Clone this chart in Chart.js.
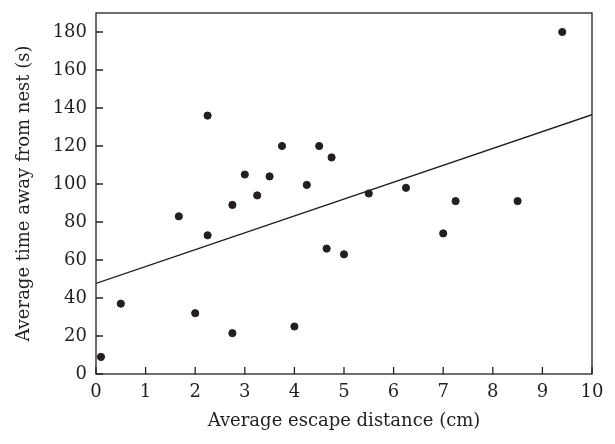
<!DOCTYPE html>
<html>
<head>
<meta charset="utf-8">
<script src="https://cdn.jsdelivr.net/npm/chart.js@4.4.1/dist/chart.umd.min.js"></script>
<style>
  html, body { margin: 0; padding: 0; background: #fff; }
  #wrap { width: 615px; height: 444px; }
</style>
</head>
<body>
<div id="wrap"><canvas id="scatter"></canvas></div>
<script>
// escape distance (cm) vs time away from nest (s)
const escapeDist = [0.1, 0.5, 1.67, 2.0, 2.25, 2.25, 2.75, 2.75, 3.0, 3.25, 3.5, 3.75,
                    4.0, 4.25, 4.5, 4.65, 4.75, 5.0, 5.5, 6.25, 7.0, 7.25, 8.5, 9.4];
const timeAway   = [9, 37, 83, 32, 73, 136, 21.5, 89, 105, 94, 104, 120,
                    25, 99.5, 120, 66, 114, 63, 95, 98, 74, 91, 91, 180];
// fitted line end points
const fitX = [0, 10];
const fitY = [47.7, 136.5];
const xTicks = [0, 1, 2, 3, 4, 5, 6, 7, 8, 9, 10];
const yTicks = [0, 20, 40, 60, 80, 100, 120, 140, 160, 180];

const ink = '#231f20';
const serif = '"DejaVu Serif", "Liberation Serif", serif';

// frame round the plot + ticks pointing inward
const frame = {
  id: 'frame',
  afterDraw(chart) {
    const {ctx, chartArea: a, scales} = chart;
    ctx.save();
    ctx.strokeStyle = ink;
    ctx.lineWidth = 1.3;
    ctx.strokeRect(a.left, a.top, a.right - a.left, a.bottom - a.top);
    ctx.beginPath();
    xTicks.forEach(v => {
      const px = scales.x.getPixelForValue(v);
      ctx.moveTo(px, a.bottom);
      ctx.lineTo(px, a.bottom - 7);
    });
    yTicks.forEach(v => {
      const py = scales.y.getPixelForValue(v);
      ctx.moveTo(a.left, py);
      ctx.lineTo(a.left + 7, py);
    });
    ctx.stroke();
    ctx.restore();
  }
};

new Chart(document.getElementById('scatter'), {
  type: 'scatter',
  data: {
    datasets: [
      {
        data: escapeDist.map((x, i) => ({x: x, y: timeAway[i]})),
        backgroundColor: ink,
        borderColor: ink,
        pointRadius: 3.6,
        pointHoverRadius: 3.6
      },
      {
        type: 'line',
        data: fitX.map((x, i) => ({x: x, y: fitY[i]})),
        borderColor: ink,
        borderWidth: 1.4,
        pointRadius: 0,
        fill: false
      }
    ]
  },
  options: {
    responsive: true,
    maintainAspectRatio: false,
    animation: false,
    layout: { padding: { top: 13, right: 23, left: 0, bottom: 0 } },
    plugins: { legend: { display: false }, tooltip: { enabled: false } },
    scales: {
      x: {
        type: 'linear',
        min: 0, max: 10,
        afterFit(s) { s.height = 70; },
        afterBuildTicks(s) { s.ticks = xTicks.map(v => ({value: v})); },
        grid: { display: false, drawTicks: false },
        border: { display: false },
        ticks: { color: ink, padding: 8, maxRotation: 0, font: { family: serif, size: 18 } },
        title: {
          display: true,
          text: 'Average escape distance (cm)',
          color: ink,
          font: { family: serif, size: 18 },
          padding: { top: 0, bottom: 12 }
        }
      },
      y: {
        min: 0, max: 190,
        afterFit(s) { s.width = 96; s.paddingTop = 0; s.paddingBottom = 0; },
        afterBuildTicks(s) { s.ticks = yTicks.map(v => ({value: v})); },
        grid: { display: false, drawTicks: false },
        border: { display: false },
        ticks: { color: ink, padding: 9, font: { family: serif, size: 18 } },
        title: {
          display: true,
          text: 'Average time away from nest (s)',
          color: ink,
          font: { family: serif, size: 18 },
          padding: { top: 14, bottom: 0 }
        }
      }
    }
  },
  plugins: [frame]
});
</script>
</body>
</html>
